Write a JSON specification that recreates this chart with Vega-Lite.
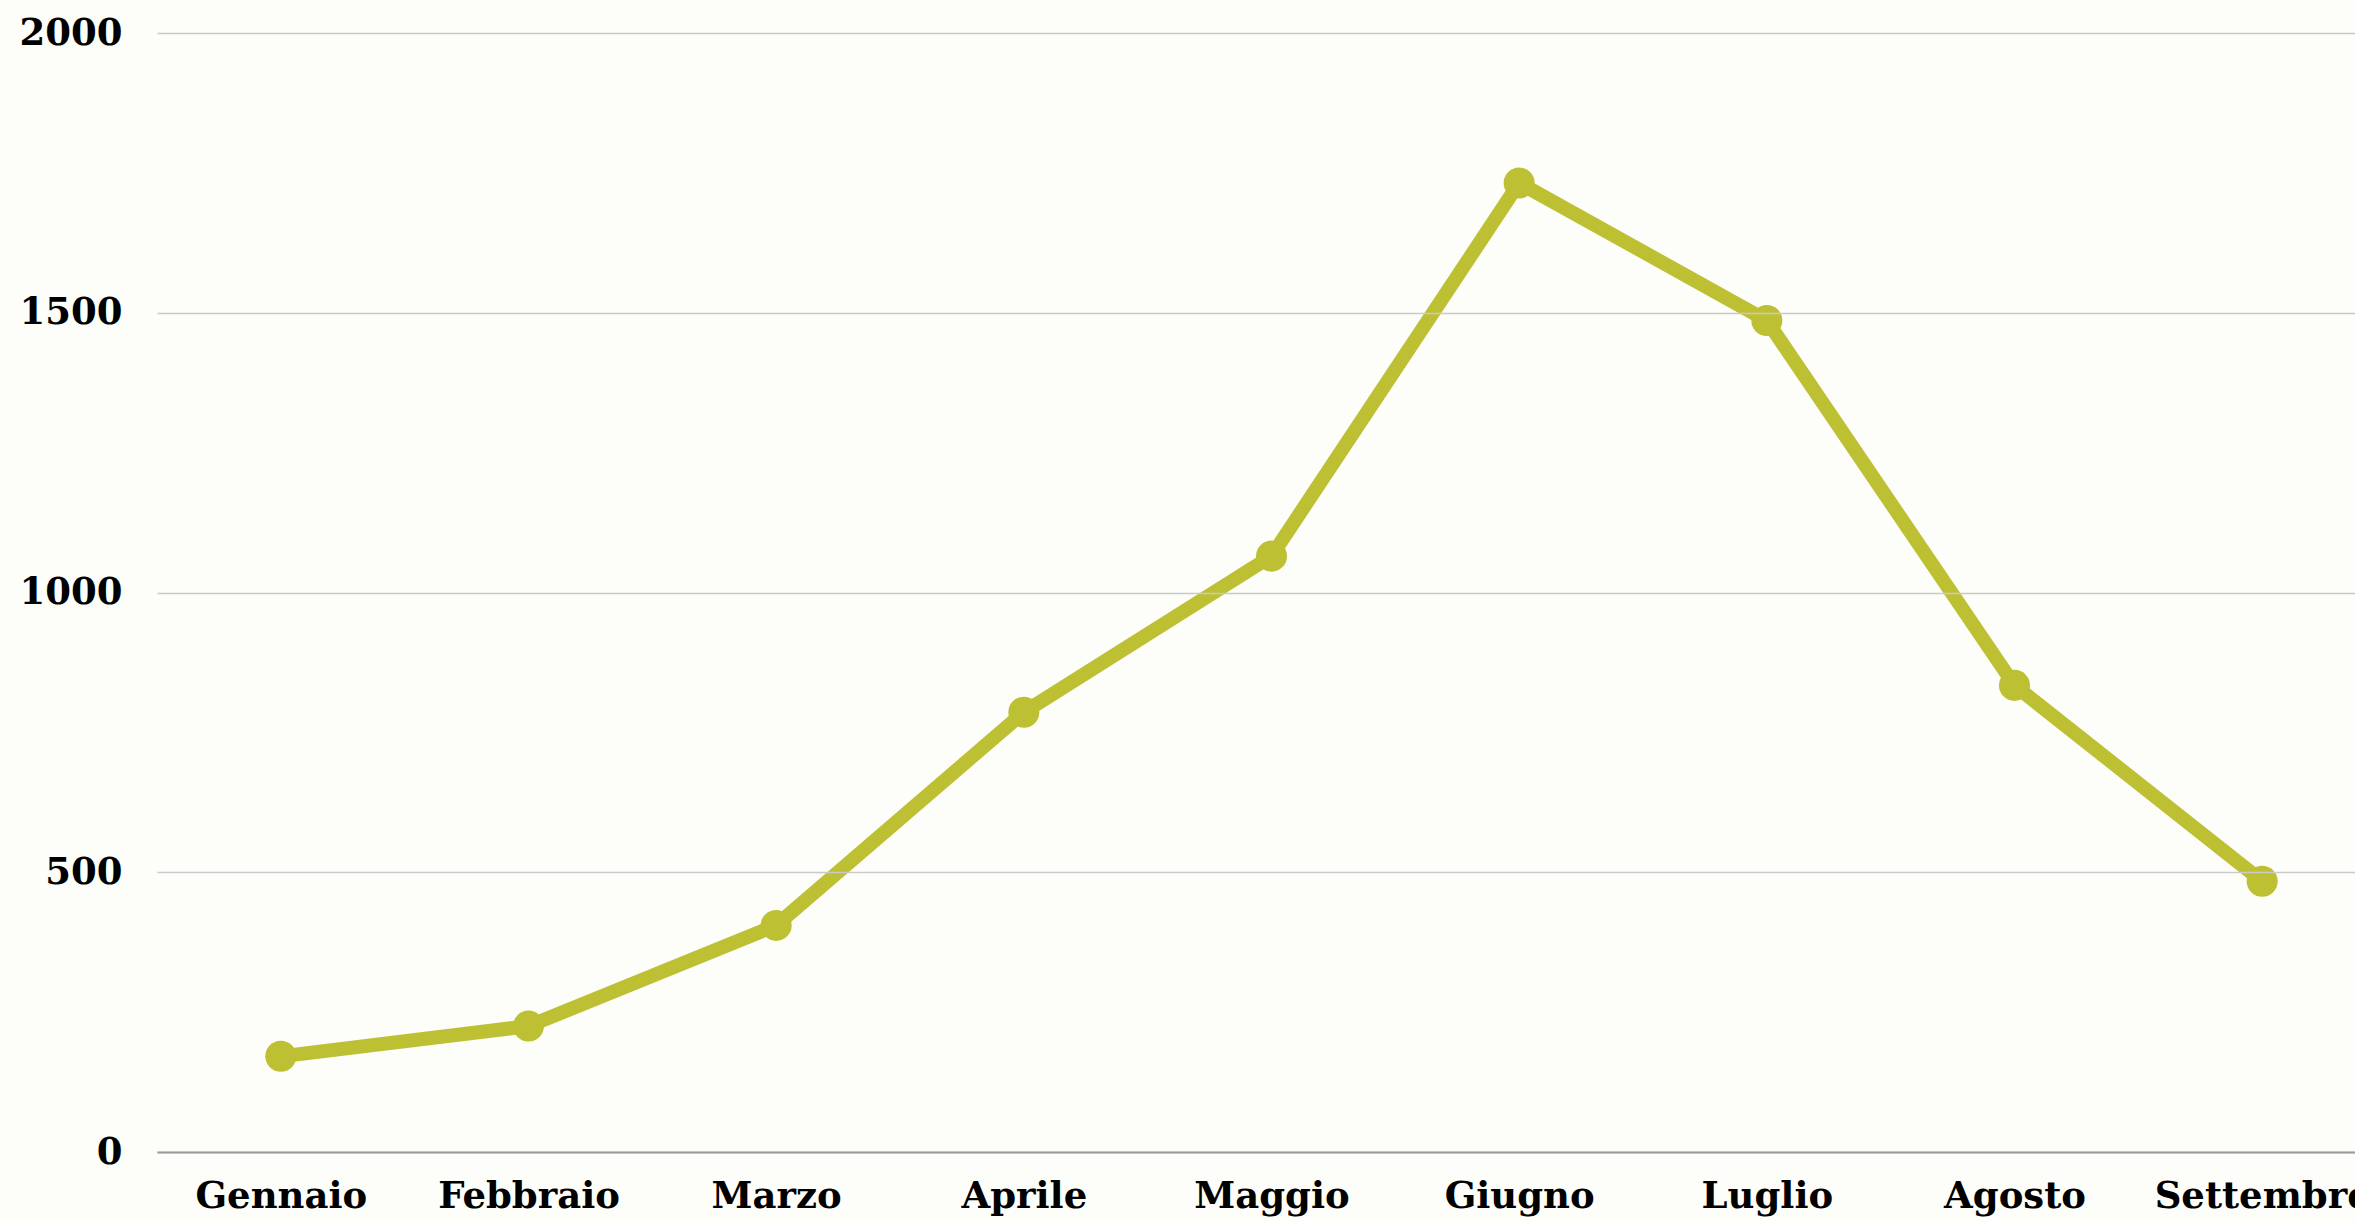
{
  "$schema": "https://vega.github.io/schema/vega-lite/v6.json",
  "autosize": {"type": "none"},
  "width": 2198,
  "height": 1119,
  "padding": {"left": 157, "top": 33, "right": 0, "bottom": 69},
  "background": "#fdfdf9",
  "config": {
    "view": {"stroke": null},
    "font": "DejaVu Serif"
  },
  "data": {
    "values": [
      {"mese": "Gennaio", "valore": 171},
      {"mese": "Febbraio", "valore": 225},
      {"mese": "Marzo", "valore": 405},
      {"mese": "Aprile", "valore": 786},
      {"mese": "Maggio", "valore": 1065},
      {"mese": "Giugno", "valore": 1732},
      {"mese": "Luglio", "valore": 1486},
      {"mese": "Agosto", "valore": 834},
      {"mese": "Settembre", "valore": 484}
    ]
  },
  "encoding": {
    "x": {
      "field": "mese",
      "type": "nominal",
      "sort": null,
      "scale": {"range": [0, 2229]},
      "axis": {
        "title": null,
        "labelAngle": 0,
        "labelFont": "DejaVu Serif",
        "labelFontSize": 37,
        "labelFontWeight": "bold",
        "labelColor": "#000000",
        "labelPadding": 26,
        "labelLimit": 0,
        "labelOverlap": false,
        "labelBound": false,
        "ticks": false,
        "domainColor": "#9a9a9a",
        "domainWidth": 2,
        "grid": false,
        "zindex": 1
      }
    },
    "y": {
      "field": "valore",
      "type": "quantitative",
      "scale": {"domain": [0, 2000], "nice": false},
      "axis": {
        "title": null,
        "values": [0, 500, 1000, 1500, 2000],
        "format": "d",
        "labelFont": "DejaVu Serif",
        "labelFontSize": 37,
        "labelFontWeight": "bold",
        "labelColor": "#000000",
        "labelPadding": 35,
        "labelLimit": 0,
        "ticks": false,
        "domain": false,
        "gridColor": "#c9c9c9",
        "gridWidth": 1.5,
        "zindex": 1
      }
    }
  },
  "layer": [
    {
      "mark": {"type": "line", "color": "#bec034", "strokeWidth": 14, "strokeJoin": "round"}
    },
    {
      "mark": {"type": "circle", "color": "#bec034", "opacity": 1, "size": 962}
    }
  ]
}
